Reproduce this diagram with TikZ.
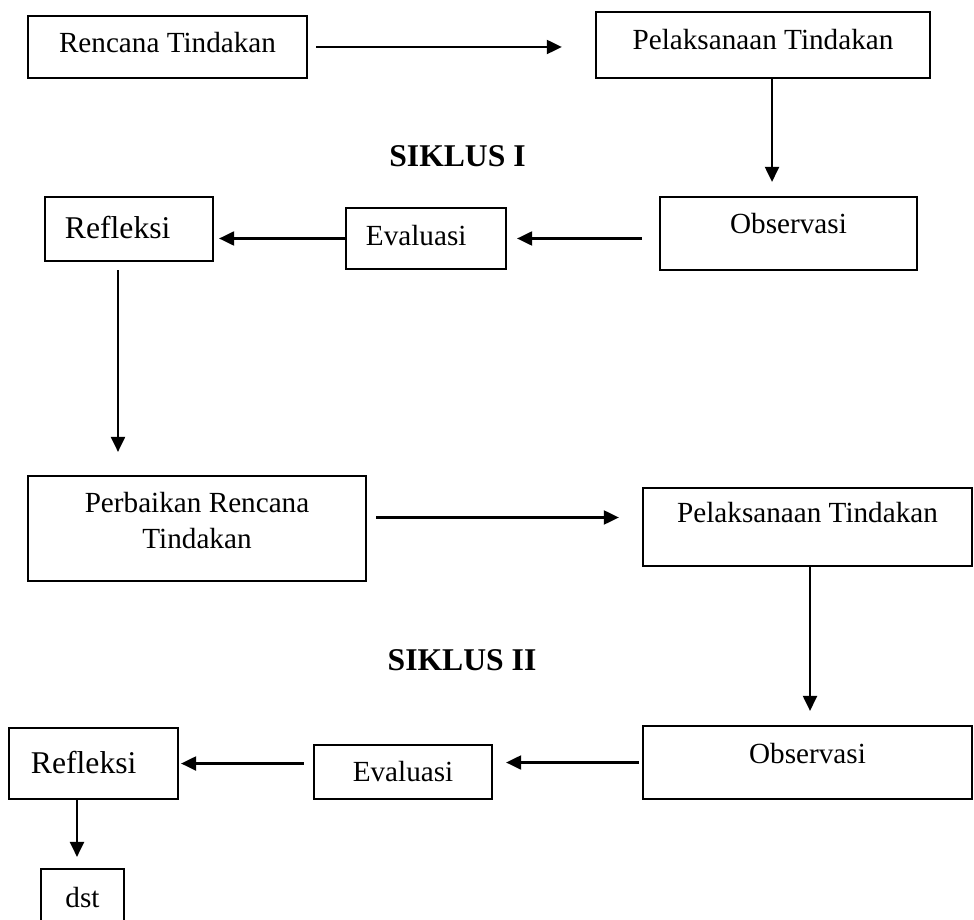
\documentclass[tikz,border=0pt]{standalone}
\usepackage{fontspec}
\setmainfont{Liberation Serif}
\usetikzlibrary{arrows.meta, positioning, calc}

\begin{document}
\begin{tikzpicture}[x=0.01cm, y=-0.01cm,
  box/.style={rectangle, draw=black, line width=0.6pt, inner sep=0pt, align=center,
              text height=2mm, font=\fontsize{8.3pt}{10pt}\selectfont},
  padbox/.style={box, align=left, inner xsep=2mm, font=\fontsize{9pt}{11pt}\selectfont},
  heading/.style={font=\fontsize{9pt}{11pt}\selectfont\bfseries, anchor=base, inner sep=0pt},
  arr/.style={-{Triangle[length=1.5mm, width=1.4mm]}, line width=0.6pt}]

  \useasboundingbox (0,0) rectangle (974,919);

  % ── Siklus I ──────────────────────────────────────────────────────
  \node[box, minimum width=2.79cm, minimum height=0.62cm, text depth=0.8mm]
        (rencana) at (167.5,47) {Rencana Tindakan};
  \node[box, minimum width=3.34cm, minimum height=0.66cm, text depth=1mm]
        (pelaksanaan1) at (763,45) {Pelaksanaan Tindakan};
  \node[heading] (siklus1) at (457.5,167) {SIKLUS I};
  \node[box, minimum width=2.57cm, minimum height=0.73cm, text depth=1.9mm]
        (observasi1) at (788.5,233.5) {Observasi};
  \node[box, align=left, inner xsep=2mm, text width=1.2cm, minimum width=1.6cm,
        minimum height=0.61cm, text depth=0.7mm]
        (evaluasi1) at (426,238.5) {Evaluasi};
  \node[padbox, text width=1.28cm, minimum width=1.68cm, minimum height=0.64cm, text depth=0.2mm]
        (refleksi1) at (129,229) {Refleksi};

  % ── Siklus II ─────────────────────────────────────────────────────
  \node[box, minimum width=3.38cm, minimum height=1.05cm, text height=3.9mm, text depth=0mm]
        (perbaikan) at (197,528.5) {Perbaikan Rencana\\Tindakan};
  \node[box, minimum width=3.29cm, minimum height=0.78cm, text depth=3mm]
        (pelaksanaan2) at (807.5,527) {Pelaksanaan Tindakan};
  \node[heading] (siklus2) at (462,670) {SIKLUS II};
  \node[box, minimum width=3.29cm, minimum height=0.73cm, text depth=1.9mm]
        (observasi2) at (807.5,762.5) {Observasi};
  \node[box, minimum width=1.78cm, minimum height=0.54cm]
        (evaluasi2) at (403,772) {Evaluasi};
  \node[padbox, inner xsep=2.2mm, text width=1.25cm, minimum width=1.69cm, minimum height=0.71cm]
        (refleksi2) at (93.5,763.5) {Refleksi};
  \node[box, minimum width=0.83cm, minimum height=0.8cm, text depth=2.4mm]
        (dst) at (82.5,909) {dst};

  % ── Arrows ────────────────────────────────────────────────────────
  \draw[arr, shorten <=0.8mm, shorten >=3.3mm] (rencana.east) -- (rencana.east -| pelaksanaan1.west);
  \draw[arr, shorten >=1.4mm] ([xshift=0.9mm]pelaksanaan1.south) -- ([xshift=0.9mm]pelaksanaan1.south |- observasi1.north);
  \draw[arr, shorten <=1.7mm, shorten >=1mm] (observasi1.west |- evaluasi1.east) -- (evaluasi1.east);
  \draw[arr, shorten >=0.5mm] (evaluasi1.west) -- (evaluasi1.west -| refleksi1.east);
  \draw[arr, shorten <=0.8mm, shorten >=2.3mm] ([xshift=-1.1mm]refleksi1.south) -- ([xshift=-1.1mm]refleksi1.south |- perbaikan.north);

  \draw[arr, shorten <=0.9mm, shorten >=2.3mm] ([yshift=1.1mm]perbaikan.east) -- ([yshift=1.1mm]perbaikan.east -| pelaksanaan2.west);
  \draw[arr, shorten >=1.4mm] ([xshift=0.25mm]pelaksanaan2.south) -- ([xshift=0.25mm]pelaksanaan2.south |- observasi2.north);
  \draw[arr, shorten <=0.3mm, shorten >=1.3mm] (observasi2.west) -- (observasi2.west -| evaluasi2.east);
  \draw[arr, shorten <=0.9mm, shorten >=0.2mm] (evaluasi2.west |- refleksi2.east) -- (refleksi2.east);
  \draw[arr, shorten >=1.1mm] ([xshift=-1.65mm]refleksi2.south) -- ([xshift=-1.65mm]refleksi2.south |- dst.north);

\end{tikzpicture}
\end{document}
